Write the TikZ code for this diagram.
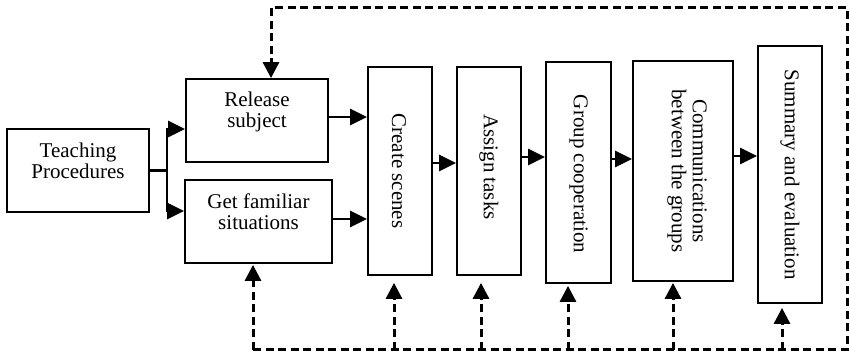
\documentclass[tikz,border=0pt]{standalone}
\usepackage{fontspec}
\setmainfont{Liberation Serif}
\usetikzlibrary{arrows.meta}
\begin{document}
\begin{tikzpicture}[x=1pt,y=-1pt,
  box/.style={draw,line width=1.8pt,minimum width=#1,inner sep=0pt},
  txt/.style={font=\fontsize{21}{21}\selectfont,align=center,inner sep=0pt},
  arr/.style={line width=2.6pt,-{Triangle[length=17pt,width=16pt]}},
  dline/.style={line width=3pt,dash pattern=on 8pt off 4.5pt},
  darr/.style={dline,-{Triangle[length=16pt,width=16pt]}}]
\useasboundingbox (0,0) rectangle (849,355);
% boxes
\node[box=142pt,minimum height=83pt] (tp) at (78,170.5) {};
\node[box=142pt,minimum height=83pt] (rel) at (257,120.5) {};
\node[box=147pt,minimum height=83pt] (get) at (258.5,221.5) {};
\node[box=64pt,minimum height=208pt] (cs) at (400,171) {};
\node[box=64pt,minimum height=208pt] (at) at (489,171) {};
\node[box=65pt,minimum height=221pt] (gc) at (578.5,172.5) {};
\node[box=100pt,minimum height=220pt] (cm) at (683,171) {};
\node[box=64pt,minimum height=257pt] (se) at (790,174.5) {};
% texts
\node[txt] (tpt) at ([yshift=9.5pt]tp.center) {Teaching\\Procedures};
\node[txt] (relt) at ([yshift=8.5pt]rel.center) {Release\\subject};
\node[txt] (gett) at ([yshift=9.5pt]get.center) {Get familiar\\situations};
\node[txt,rotate=-90] (cst) at ([xshift=-1pt]cs.center) {Create scenes};
\node[txt,rotate=-90] (att) at ([yshift=4pt]at.center) {Assign tasks};
\node[txt,rotate=-90] (gct) at ([yshift=-1.5pt]gc.center) {Group cooperation};
\node[txt,rotate=-90] (cmt) at ([xshift=4pt]cm.center) {Communications\\between the groups};
\node[txt,rotate=-90] (set) at (se.center) {Summary and evaluation};
% solid connectors
\coordinate (br) at (167,170.5);
\draw[line width=2.6pt] (tp.east) -- (br);
\draw[arr] (br) |- ([yshift=-8.5pt]rel.west);
\draw[arr] (br) |- ([yshift=10.5pt]get.west);
\coordinate (r1) at ([yshift=3.5pt]rel.east);
\draw[arr] (r1) -- (r1 -| cs.west);
\coordinate (g1) at ([yshift=2.5pt]get.east);
\draw[arr] (g1) -- (g1 -| cs.west);
\coordinate (c1) at ([yshift=8pt]cs.east);
\draw[arr] (c1) -- (c1 -| at.west);
\coordinate (a1) at ([yshift=14pt]at.east);
\draw[arr] (a1) -- (a1 -| gc.west);
\coordinate (q1) at ([yshift=13.5pt]gc.east);
\draw[arr] (q1) -- (q1 -| cm.west);
\coordinate (m1) at ([yshift=15pt]cm.east);
\draw[arr] (m1) -- (m1 -| se.west);
% dashed feedback loop
\coordinate (TR) at (847,8);
\coordinate (BR) at (847,350);
\coordinate (relT) at ([xshift=14pt]rel.north);
\coordinate (getB) at ([xshift=-5.5pt,yshift=-1pt]get.south);
\coordinate (csB) at ([xshift=-6pt,yshift=-7pt]cs.south);
\coordinate (atB) at ([xshift=-8pt,yshift=-7pt]at.south);
\coordinate (gcB) at ([xshift=-10.5pt,yshift=-2pt]gc.south);
\coordinate (cmB) at ([xshift=-10pt,yshift=-1pt]cm.south);
\coordinate (seB) at ([xshift=-8pt,yshift=-4pt]se.south);
\draw[darr] (getB |- BR) -- (BR) -- (TR) -| (relT);
\draw[darr] (getB |- BR) -- (getB);
\draw[darr] (csB |- BR) -- (csB);
\draw[darr] (atB |- BR) -- (atB);
\draw[darr] (gcB |- BR) -- (gcB);
\draw[darr] (cmB |- BR) -- (cmB);
\draw[darr] (seB |- BR) -- (seB);
\end{tikzpicture}
\end{document}
